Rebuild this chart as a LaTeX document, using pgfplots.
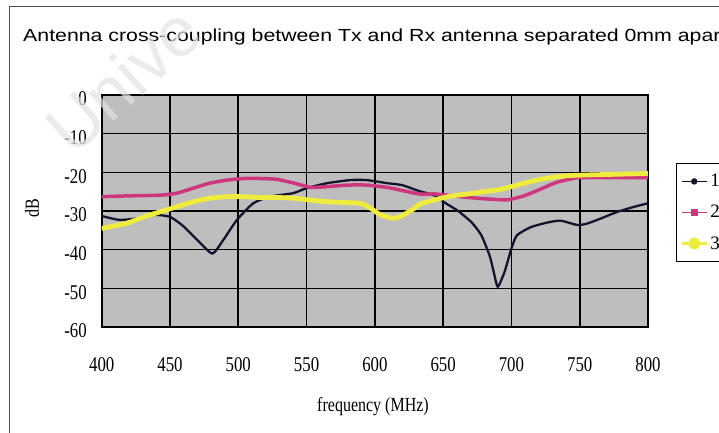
\documentclass[border=0pt]{standalone}
\usepackage{pgfplots}
\pgfplotsset{compat=1.18}
\usepackage{fontspec}
\setmainfont{Liberation Serif}
\newfontfamily\titlefont{Liberation Sans}
\newcommand\sx[1]{\scalebox{0.8}[1]{#1}}
\definecolor{bg}{RGB}{190,190,190}
\definecolor{s1}{RGB}{20,20,45}
\definecolor{s2}{RGB}{205,55,125}
\definecolor{s3}{RGB}{238,236,60}
\begin{document}
\begin{tikzpicture}[x=1pt,y=1pt]
\useasboundingbox (0,0) rectangle (719,433);
\clip (0,0) rectangle (719,433);
\fill[white] (0,0) rectangle (719,433);
\draw[gray!60!black, line width=0.8pt] (9,427) -- (760,427);
\draw[gray!60!black, line width=0.8pt] (9,427) -- (9,-10);
\node[anchor=base west, inner sep=0pt] at (23,391) {\titlefont\fontsize{21.3}{21.3}\selectfont\scalebox{1}[0.82]{Antenna cross-coupling between Tx and Rx antenna separated 0mm apart}};
\begin{axis}[
  at={(101.7pt,106pt)}, anchor=south west,
  scale only axis, width=546.3pt, height=232pt,
  xmin=400, xmax=800, ymin=-60, ymax=0,
  axis background/.style={fill=bg},
  grid=major,
  major grid style={black, line width=1.6pt},
  axis line style={black, line width=1.2pt},
  tick style={draw=none},
  xtick={400,450,...,800},
  ytick={-60,-50,...,0},
  xticklabels={\sx{400},\sx{450},\sx{500},\sx{550},\sx{600},\sx{650},\sx{700},\sx{750},\sx{800}},
  yticklabels={\sx{-60},\sx{-50},\sx{-40},\sx{-30},\sx{-20},\sx{-10},\sx{0}},
  tick label style={font=\fontsize{21}{21}\selectfont, inner sep=0pt},
  xticklabel style={anchor=center, yshift=-38pt},
  yticklabel style={anchor=east, xshift=-14.7pt, yshift=-4pt},
  xlabel={\sx{frequency (MHz)}},
  ylabel={\sx{dB}},
  label style={font=\fontsize{20}{20}\selectfont, inner sep=0pt},
  xlabel style={at={(axis description cs:0.4966,-0.345)}, anchor=center},
  ylabel style={at={(axis description cs:-0.1276,0.513)}, anchor=center, rotate=0},
  legend style={at={(1.051,0.707)}, anchor=north west, draw=black, line width=0.8pt,
    font=\fontsize{19}{19}\selectfont, row sep=13pt, inner xsep=4pt, inner ysep=9pt},
  legend cell align=left,
]
\addplot[s1, line width=2.3pt, smooth, tension=0.35,
  legend image code/.code={\draw[s1, line width=1.2pt] (0pt,0pt) -- (25pt,0pt); \fill[s1] (12.5pt,0pt) circle (2pt);}]
coordinates {(400,-31.3)(413,-32.3)(426,-31.9)(438,-31)(450,-31.5)(460,-34)(470,-37.5)(481,-41)(489,-37.5)(499,-32.3)(511,-28)(523,-26.3)(540,-25.4)(550,-24.1)(565,-22.8)(582,-22)(594,-22)(609,-22.8)(620,-23.3)(632,-24.8)(644,-26)(651,-27.8)(661,-30)(671,-33)(678,-36.3)(684,-41.5)(687,-45.7)(690,-49.6)(695,-45.7)(700,-39.7)(704,-36.3)(714,-34.2)(726,-33)(736,-32.5)(748,-33.6)(755,-33.3)(765,-32)(777,-30.3)(789,-29)(800,-28)};
\addlegendentry{1\hspace{40pt}}
\addplot[s2, line width=3.5pt, smooth, tension=0.35,
  legend image code/.code={\draw[s2, line width=1.6pt] (0pt,0pt) -- (25pt,0pt); \fill[s2] (10.5pt,-1.8pt) rectangle (14.5pt,1.8pt);}]
coordinates {(400,-26.3)(418,-26.1)(443,-25.9)(455,-25.4)(467,-24.1)(479,-22.8)(492,-22)(504,-21.6)(516,-21.6)(528,-21.8)(541,-22.8)(553,-23.9)(565,-23.7)(580,-23.3)(594,-23.3)(609,-23.9)(624,-25)(633,-25.6)(644,-25.6)(656,-26)(668,-26.5)(683,-26.9)(697,-27.1)(709,-26.1)(721,-24.4)(733,-22.6)(748,-21.4)(765,-21.4)(789,-21.4)(800,-21.4)};
\addlegendentry{2\hspace{40pt}}
\addplot[s3, line width=4.8pt, smooth, tension=0.35,
  legend image code/.code={\draw[s3, line width=3pt] (0pt,0pt) -- (25pt,0pt); \fill[s3] (12.5pt,0pt) circle (3.5pt);}]
coordinates {(400,-34.5)(418,-33.2)(431,-31.5)(443,-30.2)(455,-28.9)(467,-27.6)(479,-26.7)(492,-26.3)(504,-26.3)(516,-26.5)(528,-26.5)(541,-26.7)(553,-27.2)(565,-27.6)(577,-27.8)(589,-28)(597,-29.3)(604,-31)(614,-31.9)(621,-31)(629,-29.3)(633,-28.2)(644,-27.1)(656,-26.1)(668,-25.6)(680,-25)(692,-24.4)(704,-23.3)(716,-22.2)(728,-21.4)(740,-20.9)(753,-20.7)(777,-20.5)(800,-20.3)};
\addlegendentry{3\hspace{40pt}}
\end{axis}
\node[rotate=42, text=gray!22, opacity=0.7, font=\titlefont\fontsize{70}{70}\selectfont, anchor=base west, inner sep=0pt] at (73,275) {Unive};
\end{tikzpicture}
\end{document}
